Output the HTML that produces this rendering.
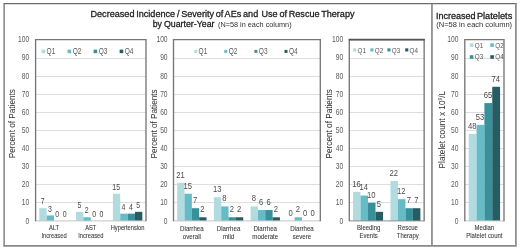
<!DOCTYPE html>
<html><head><meta charset="utf-8"><title>chart</title>
<style>html,body{margin:0;padding:0;background:#fff;}svg{display:block;filter:blur(0.45px);}</style></head>
<body>
<svg width="520" height="251" viewBox="0 0 520 251" font-family="Liberation Sans, sans-serif">
<rect x="0" y="0" width="520" height="251" fill="#ffffff"/>
<path d="M4.1,246.6 L4.1,3.6 L516.6,3.6" fill="none" stroke="#6c6c6c" stroke-width="1.25"/>
<path d="M3.5,245.85 L515.9,245.85 L515.9,3.0" fill="none" stroke="#8a8a8a" stroke-width="1.7"/>
<line x1="431.95" x2="431.95" y1="3.7" y2="245.7" stroke="#8a8a8a" stroke-width="1.7"/>
<text transform="translate(90.50,17.10) scale(1,1)" font-size="9.1" text-anchor="start" fill="#1c1c1c" font-weight="normal" stroke="#1c1c1c" stroke-width="0.28" word-spacing="-0.78">Decreased Incidence / Severity of AEs and</text>
<text transform="translate(354.50,17.10) scale(1,1)" font-size="9.1" text-anchor="end" fill="#1c1c1c" font-weight="normal" stroke="#1c1c1c" stroke-width="0.28" word-spacing="-0.78">Use of Rescue Therapy</text>
<text transform="translate(152.70,27.20) scale(1,1)" font-size="8.8" text-anchor="start" fill="#1c1c1c" font-weight="normal" stroke="#1c1c1c" stroke-width="0.28" word-spacing="-0.5">by Quarter-Year</text>
<text transform="translate(218.00,27.20) scale(1,1)" font-size="7.8" text-anchor="start" fill="#303030" font-weight="normal" textLength="73.6" lengthAdjust="spacingAndGlyphs">(N=58 in each column)</text>
<text transform="translate(436.10,18.80) scale(1,1)" font-size="9" text-anchor="start" fill="#1c1c1c" font-weight="normal" stroke="#1c1c1c" stroke-width="0.28" word-spacing="-0.5">Increased</text>
<text transform="translate(476.90,18.80) scale(1,1)" font-size="9" text-anchor="start" fill="#1c1c1c" font-weight="normal" stroke="#1c1c1c" stroke-width="0.28" word-spacing="-0.5" textLength="35.4" lengthAdjust="spacingAndGlyphs">Platelets</text>
<text transform="translate(436.30,27.40) scale(1,1)" font-size="7.8" text-anchor="start" fill="#303030" font-weight="normal" textLength="75.8" lengthAdjust="spacingAndGlyphs">(N=58 in each column)</text>
<line x1="35.6" x2="146.0" y1="202.50" y2="202.50" stroke="#dedede" stroke-width="1"/>
<line x1="35.6" x2="146.0" y1="184.50" y2="184.50" stroke="#dedede" stroke-width="1"/>
<line x1="35.6" x2="146.0" y1="166.50" y2="166.50" stroke="#dedede" stroke-width="1"/>
<line x1="35.6" x2="146.0" y1="148.50" y2="148.50" stroke="#dedede" stroke-width="1"/>
<line x1="35.6" x2="146.0" y1="130.50" y2="130.50" stroke="#dedede" stroke-width="1"/>
<line x1="35.6" x2="146.0" y1="112.50" y2="112.50" stroke="#dedede" stroke-width="1"/>
<line x1="35.6" x2="146.0" y1="94.50" y2="94.50" stroke="#dedede" stroke-width="1"/>
<line x1="35.6" x2="146.0" y1="76.50" y2="76.50" stroke="#dedede" stroke-width="1"/>
<line x1="35.6" x2="146.0" y1="58.50" y2="58.50" stroke="#dedede" stroke-width="1"/>
<text transform="translate(29.30,223.55) scale(0.78,1)" font-size="8.6" text-anchor="end" fill="#5c5c5c" font-weight="normal" >0</text>
<text transform="translate(29.30,205.43) scale(0.78,1)" font-size="8.6" text-anchor="end" fill="#5c5c5c" font-weight="normal" >10</text>
<text transform="translate(29.30,187.30) scale(0.78,1)" font-size="8.6" text-anchor="end" fill="#5c5c5c" font-weight="normal" >20</text>
<text transform="translate(29.30,169.18) scale(0.78,1)" font-size="8.6" text-anchor="end" fill="#5c5c5c" font-weight="normal" >30</text>
<text transform="translate(29.30,151.05) scale(0.78,1)" font-size="8.6" text-anchor="end" fill="#5c5c5c" font-weight="normal" >40</text>
<text transform="translate(29.30,132.93) scale(0.78,1)" font-size="8.6" text-anchor="end" fill="#5c5c5c" font-weight="normal" >50</text>
<text transform="translate(29.30,114.80) scale(0.78,1)" font-size="8.6" text-anchor="end" fill="#5c5c5c" font-weight="normal" >60</text>
<text transform="translate(29.30,96.68) scale(0.78,1)" font-size="8.6" text-anchor="end" fill="#5c5c5c" font-weight="normal" >70</text>
<text transform="translate(29.30,78.55) scale(0.78,1)" font-size="8.6" text-anchor="end" fill="#5c5c5c" font-weight="normal" >80</text>
<text transform="translate(29.30,60.43) scale(0.78,1)" font-size="8.6" text-anchor="end" fill="#5c5c5c" font-weight="normal" >90</text>
<text transform="translate(29.30,42.30) scale(0.78,1)" font-size="8.6" text-anchor="end" fill="#5c5c5c" font-weight="normal" >100</text>
<rect x="39.28" y="208.21" width="7.36" height="12.69" fill="#b1dbdf"/>
<text transform="translate(42.56,204.27) scale(0.82,1)" font-size="8.5" text-anchor="middle" fill="#4a4a4a" font-weight="normal" >7</text>
<rect x="46.64" y="215.46" width="7.36" height="5.44" fill="#66bbc7"/>
<text transform="translate(49.92,211.52) scale(0.82,1)" font-size="8.5" text-anchor="middle" fill="#4a4a4a" font-weight="normal" >3</text>
<text transform="translate(57.28,216.96) scale(0.82,1)" font-size="8.5" text-anchor="middle" fill="#4a4a4a" font-weight="normal" >0</text>
<text transform="translate(64.64,216.96) scale(0.82,1)" font-size="8.5" text-anchor="middle" fill="#4a4a4a" font-weight="normal" >0</text>
<text transform="translate(54.00,230.30) scale(0.82,1)" font-size="7" text-anchor="middle" fill="#383838" font-weight="normal" stroke="#383838" stroke-width="0.08">ALT</text>
<text transform="translate(54.00,238.00) scale(0.82,1)" font-size="7" text-anchor="middle" fill="#383838" font-weight="normal" stroke="#383838" stroke-width="0.08">Increased</text>
<rect x="76.08" y="211.84" width="7.36" height="9.06" fill="#b1dbdf"/>
<text transform="translate(79.36,207.90) scale(0.82,1)" font-size="8.5" text-anchor="middle" fill="#4a4a4a" font-weight="normal" >5</text>
<rect x="83.44" y="217.28" width="7.36" height="3.62" fill="#66bbc7"/>
<text transform="translate(86.72,213.34) scale(0.82,1)" font-size="8.5" text-anchor="middle" fill="#4a4a4a" font-weight="normal" >2</text>
<text transform="translate(94.08,216.96) scale(0.82,1)" font-size="8.5" text-anchor="middle" fill="#4a4a4a" font-weight="normal" >0</text>
<text transform="translate(101.44,216.96) scale(0.82,1)" font-size="8.5" text-anchor="middle" fill="#4a4a4a" font-weight="normal" >0</text>
<text transform="translate(90.80,230.30) scale(0.82,1)" font-size="7" text-anchor="middle" fill="#383838" font-weight="normal" stroke="#383838" stroke-width="0.08">AST</text>
<text transform="translate(90.80,238.00) scale(0.82,1)" font-size="7" text-anchor="middle" fill="#383838" font-weight="normal" stroke="#383838" stroke-width="0.08">Increased</text>
<rect x="112.88" y="193.71" width="7.36" height="27.19" fill="#b1dbdf"/>
<text transform="translate(116.16,189.77) scale(0.82,1)" font-size="8.5" text-anchor="middle" fill="#4a4a4a" font-weight="normal" >15</text>
<rect x="120.24" y="213.65" width="7.36" height="7.25" fill="#66bbc7"/>
<text transform="translate(123.52,209.71) scale(0.82,1)" font-size="8.5" text-anchor="middle" fill="#4a4a4a" font-weight="normal" >4</text>
<rect x="127.60" y="213.65" width="7.36" height="7.25" fill="#37909a"/>
<text transform="translate(130.88,209.71) scale(0.82,1)" font-size="8.5" text-anchor="middle" fill="#4a4a4a" font-weight="normal" >4</text>
<rect x="134.96" y="211.84" width="7.36" height="9.06" fill="#255d62"/>
<text transform="translate(138.24,207.90) scale(0.82,1)" font-size="8.5" text-anchor="middle" fill="#4a4a4a" font-weight="normal" >5</text>
<text transform="translate(127.60,230.30) scale(0.82,1)" font-size="7" text-anchor="middle" fill="#383838" font-weight="normal" stroke="#383838" stroke-width="0.08">Hypertension</text>
<line x1="35.6" x2="146.0" y1="220.9" y2="220.9" stroke="#c4c4c4" stroke-width="1"/>
<path d="M35.6,221.20000000000002 L35.6,39.65 L146.0,39.65 L146.0,221.20000000000002" fill="none" stroke="#777777" stroke-width="1.35"/>
<rect x="41.50" y="49.60" width="3.6" height="3.6" fill="#b1dbdf"/>
<text transform="translate(46.60,54.00) scale(0.79,1)" font-size="8.3" text-anchor="start" fill="#595959" font-weight="normal" >Q1</text>
<rect x="67.55" y="49.60" width="3.6" height="3.6" fill="#66bbc7"/>
<text transform="translate(72.65,54.00) scale(0.79,1)" font-size="8.3" text-anchor="start" fill="#595959" font-weight="normal" >Q2</text>
<rect x="93.60" y="49.60" width="3.6" height="3.6" fill="#37909a"/>
<text transform="translate(98.70,54.00) scale(0.79,1)" font-size="8.3" text-anchor="start" fill="#595959" font-weight="normal" >Q3</text>
<rect x="119.65" y="49.60" width="3.6" height="3.6" fill="#255d62"/>
<text transform="translate(124.75,54.00) scale(0.79,1)" font-size="8.3" text-anchor="start" fill="#595959" font-weight="normal" >Q4</text>
<text transform="translate(14.9,123.7) rotate(-90)" font-size="8.2" text-anchor="middle" fill="#303030" textLength="69.3" lengthAdjust="spacingAndGlyphs">Percent of Patients</text>
<line x1="173.5" x2="320.3" y1="202.50" y2="202.50" stroke="#dedede" stroke-width="1"/>
<line x1="173.5" x2="320.3" y1="184.50" y2="184.50" stroke="#dedede" stroke-width="1"/>
<line x1="173.5" x2="320.3" y1="166.50" y2="166.50" stroke="#dedede" stroke-width="1"/>
<line x1="173.5" x2="320.3" y1="148.50" y2="148.50" stroke="#dedede" stroke-width="1"/>
<line x1="173.5" x2="320.3" y1="130.50" y2="130.50" stroke="#dedede" stroke-width="1"/>
<line x1="173.5" x2="320.3" y1="112.50" y2="112.50" stroke="#dedede" stroke-width="1"/>
<line x1="173.5" x2="320.3" y1="94.50" y2="94.50" stroke="#dedede" stroke-width="1"/>
<line x1="173.5" x2="320.3" y1="76.50" y2="76.50" stroke="#dedede" stroke-width="1"/>
<line x1="173.5" x2="320.3" y1="58.50" y2="58.50" stroke="#dedede" stroke-width="1"/>
<text transform="translate(167.60,223.55) scale(0.78,1)" font-size="8.6" text-anchor="end" fill="#5c5c5c" font-weight="normal" >0</text>
<text transform="translate(167.60,205.43) scale(0.78,1)" font-size="8.6" text-anchor="end" fill="#5c5c5c" font-weight="normal" >10</text>
<text transform="translate(167.60,187.30) scale(0.78,1)" font-size="8.6" text-anchor="end" fill="#5c5c5c" font-weight="normal" >20</text>
<text transform="translate(167.60,169.18) scale(0.78,1)" font-size="8.6" text-anchor="end" fill="#5c5c5c" font-weight="normal" >30</text>
<text transform="translate(167.60,151.05) scale(0.78,1)" font-size="8.6" text-anchor="end" fill="#5c5c5c" font-weight="normal" >40</text>
<text transform="translate(167.60,132.93) scale(0.78,1)" font-size="8.6" text-anchor="end" fill="#5c5c5c" font-weight="normal" >50</text>
<text transform="translate(167.60,114.80) scale(0.78,1)" font-size="8.6" text-anchor="end" fill="#5c5c5c" font-weight="normal" >60</text>
<text transform="translate(167.60,96.68) scale(0.78,1)" font-size="8.6" text-anchor="end" fill="#5c5c5c" font-weight="normal" >70</text>
<text transform="translate(167.60,78.55) scale(0.78,1)" font-size="8.6" text-anchor="end" fill="#5c5c5c" font-weight="normal" >80</text>
<text transform="translate(167.60,60.43) scale(0.78,1)" font-size="8.6" text-anchor="end" fill="#5c5c5c" font-weight="normal" >90</text>
<text transform="translate(167.60,42.30) scale(0.78,1)" font-size="8.6" text-anchor="end" fill="#5c5c5c" font-weight="normal" >100</text>
<rect x="177.17" y="182.84" width="7.34" height="38.06" fill="#b1dbdf"/>
<text transform="translate(180.44,177.69) scale(0.82,1)" font-size="9.3" text-anchor="middle" fill="#4a4a4a" font-weight="normal" >21</text>
<rect x="184.51" y="193.71" width="7.34" height="27.19" fill="#66bbc7"/>
<text transform="translate(187.78,188.56) scale(0.82,1)" font-size="9.3" text-anchor="middle" fill="#4a4a4a" font-weight="normal" >15</text>
<rect x="191.85" y="208.21" width="7.34" height="12.69" fill="#37909a"/>
<text transform="translate(195.12,203.06) scale(0.82,1)" font-size="9.3" text-anchor="middle" fill="#4a4a4a" font-weight="normal" >7</text>
<rect x="199.19" y="217.28" width="7.34" height="3.62" fill="#255d62"/>
<text transform="translate(202.46,212.12) scale(0.82,1)" font-size="9.3" text-anchor="middle" fill="#4a4a4a" font-weight="normal" >2</text>
<text transform="translate(191.85,231.30) scale(0.82,1)" font-size="7.5" text-anchor="middle" fill="#383838" font-weight="normal" stroke="#383838" stroke-width="0.08">Diarrhea</text>
<text transform="translate(191.85,239.00) scale(0.82,1)" font-size="7.5" text-anchor="middle" fill="#383838" font-weight="normal" stroke="#383838" stroke-width="0.08">overall</text>
<rect x="213.87" y="197.34" width="7.34" height="23.56" fill="#b1dbdf"/>
<text transform="translate(217.14,192.19) scale(0.82,1)" font-size="9.3" text-anchor="middle" fill="#4a4a4a" font-weight="normal" >13</text>
<rect x="221.21" y="206.40" width="7.34" height="14.50" fill="#66bbc7"/>
<text transform="translate(224.48,201.25) scale(0.82,1)" font-size="9.3" text-anchor="middle" fill="#4a4a4a" font-weight="normal" >8</text>
<rect x="228.55" y="217.28" width="7.34" height="3.62" fill="#37909a"/>
<text transform="translate(231.82,212.12) scale(0.82,1)" font-size="9.3" text-anchor="middle" fill="#4a4a4a" font-weight="normal" >2</text>
<rect x="235.89" y="217.28" width="7.34" height="3.62" fill="#255d62"/>
<text transform="translate(239.16,212.12) scale(0.82,1)" font-size="9.3" text-anchor="middle" fill="#4a4a4a" font-weight="normal" >2</text>
<text transform="translate(228.55,231.30) scale(0.82,1)" font-size="7.5" text-anchor="middle" fill="#383838" font-weight="normal" stroke="#383838" stroke-width="0.08">Diarrhea</text>
<text transform="translate(228.55,239.00) scale(0.82,1)" font-size="7.5" text-anchor="middle" fill="#383838" font-weight="normal" stroke="#383838" stroke-width="0.08">mild</text>
<rect x="250.57" y="206.40" width="7.34" height="14.50" fill="#b1dbdf"/>
<text transform="translate(253.84,201.25) scale(0.82,1)" font-size="9.3" text-anchor="middle" fill="#4a4a4a" font-weight="normal" >8</text>
<rect x="257.91" y="210.03" width="7.34" height="10.88" fill="#66bbc7"/>
<text transform="translate(261.18,204.87) scale(0.82,1)" font-size="9.3" text-anchor="middle" fill="#4a4a4a" font-weight="normal" >6</text>
<rect x="265.25" y="210.03" width="7.34" height="10.88" fill="#37909a"/>
<text transform="translate(268.52,204.87) scale(0.82,1)" font-size="9.3" text-anchor="middle" fill="#4a4a4a" font-weight="normal" >6</text>
<rect x="272.59" y="217.28" width="7.34" height="3.62" fill="#255d62"/>
<text transform="translate(275.86,212.12) scale(0.82,1)" font-size="9.3" text-anchor="middle" fill="#4a4a4a" font-weight="normal" >2</text>
<text transform="translate(265.25,231.30) scale(0.82,1)" font-size="7.5" text-anchor="middle" fill="#383838" font-weight="normal" stroke="#383838" stroke-width="0.08">Diarrhea</text>
<text transform="translate(265.25,239.00) scale(0.82,1)" font-size="7.5" text-anchor="middle" fill="#383838" font-weight="normal" stroke="#383838" stroke-width="0.08">moderate</text>
<text transform="translate(290.54,215.75) scale(0.82,1)" font-size="9.3" text-anchor="middle" fill="#4a4a4a" font-weight="normal" >0</text>
<rect x="294.61" y="217.28" width="7.34" height="3.62" fill="#66bbc7"/>
<text transform="translate(297.88,212.12) scale(0.82,1)" font-size="9.3" text-anchor="middle" fill="#4a4a4a" font-weight="normal" >2</text>
<text transform="translate(305.22,215.75) scale(0.82,1)" font-size="9.3" text-anchor="middle" fill="#4a4a4a" font-weight="normal" >0</text>
<text transform="translate(312.56,215.75) scale(0.82,1)" font-size="9.3" text-anchor="middle" fill="#4a4a4a" font-weight="normal" >0</text>
<text transform="translate(301.95,231.30) scale(0.82,1)" font-size="7.5" text-anchor="middle" fill="#383838" font-weight="normal" stroke="#383838" stroke-width="0.08">Diarrhea</text>
<text transform="translate(301.95,239.00) scale(0.82,1)" font-size="7.5" text-anchor="middle" fill="#383838" font-weight="normal" stroke="#383838" stroke-width="0.08">severe</text>
<line x1="173.5" x2="320.3" y1="220.9" y2="220.9" stroke="#c4c4c4" stroke-width="1"/>
<path d="M173.5,221.20000000000002 L173.5,39.65 L320.3,39.65 L320.3,221.20000000000002" fill="none" stroke="#777777" stroke-width="1.35"/>
<rect x="194.20" y="49.90" width="3.0" height="3.0" fill="#b1dbdf"/>
<text transform="translate(198.60,54.00) scale(0.79,1)" font-size="8.3" text-anchor="start" fill="#595959" font-weight="normal" >Q1</text>
<rect x="224.30" y="49.90" width="3.0" height="3.0" fill="#66bbc7"/>
<text transform="translate(228.70,54.00) scale(0.79,1)" font-size="8.3" text-anchor="start" fill="#595959" font-weight="normal" >Q2</text>
<rect x="254.40" y="49.90" width="3.0" height="3.0" fill="#37909a"/>
<text transform="translate(258.80,54.00) scale(0.79,1)" font-size="8.3" text-anchor="start" fill="#595959" font-weight="normal" >Q3</text>
<rect x="284.50" y="49.90" width="3.0" height="3.0" fill="#255d62"/>
<text transform="translate(288.90,54.00) scale(0.79,1)" font-size="8.3" text-anchor="start" fill="#595959" font-weight="normal" >Q4</text>
<text transform="translate(156.7,123.9) rotate(-90)" font-size="8.2" text-anchor="middle" fill="#303030" textLength="69.1" lengthAdjust="spacingAndGlyphs">Percent of Patients</text>
<line x1="349.3" x2="424.15" y1="202.50" y2="202.50" stroke="#dedede" stroke-width="1"/>
<line x1="349.3" x2="424.15" y1="184.50" y2="184.50" stroke="#dedede" stroke-width="1"/>
<line x1="349.3" x2="424.15" y1="166.50" y2="166.50" stroke="#dedede" stroke-width="1"/>
<line x1="349.3" x2="424.15" y1="148.50" y2="148.50" stroke="#dedede" stroke-width="1"/>
<line x1="349.3" x2="424.15" y1="130.50" y2="130.50" stroke="#dedede" stroke-width="1"/>
<line x1="349.3" x2="424.15" y1="112.50" y2="112.50" stroke="#dedede" stroke-width="1"/>
<line x1="349.3" x2="424.15" y1="94.50" y2="94.50" stroke="#dedede" stroke-width="1"/>
<line x1="349.3" x2="424.15" y1="76.50" y2="76.50" stroke="#dedede" stroke-width="1"/>
<line x1="349.3" x2="424.15" y1="58.50" y2="58.50" stroke="#dedede" stroke-width="1"/>
<text transform="translate(343.20,223.55) scale(0.78,1)" font-size="8.6" text-anchor="end" fill="#5c5c5c" font-weight="normal" >0</text>
<text transform="translate(343.20,205.43) scale(0.78,1)" font-size="8.6" text-anchor="end" fill="#5c5c5c" font-weight="normal" >10</text>
<text transform="translate(343.20,187.30) scale(0.78,1)" font-size="8.6" text-anchor="end" fill="#5c5c5c" font-weight="normal" >20</text>
<text transform="translate(343.20,169.18) scale(0.78,1)" font-size="8.6" text-anchor="end" fill="#5c5c5c" font-weight="normal" >30</text>
<text transform="translate(343.20,151.05) scale(0.78,1)" font-size="8.6" text-anchor="end" fill="#5c5c5c" font-weight="normal" >40</text>
<text transform="translate(343.20,132.93) scale(0.78,1)" font-size="8.6" text-anchor="end" fill="#5c5c5c" font-weight="normal" >50</text>
<text transform="translate(343.20,114.80) scale(0.78,1)" font-size="8.6" text-anchor="end" fill="#5c5c5c" font-weight="normal" >60</text>
<text transform="translate(343.20,96.68) scale(0.78,1)" font-size="8.6" text-anchor="end" fill="#5c5c5c" font-weight="normal" >70</text>
<text transform="translate(343.20,78.55) scale(0.78,1)" font-size="8.6" text-anchor="end" fill="#5c5c5c" font-weight="normal" >80</text>
<text transform="translate(343.20,60.43) scale(0.78,1)" font-size="8.6" text-anchor="end" fill="#5c5c5c" font-weight="normal" >90</text>
<text transform="translate(343.20,42.30) scale(0.78,1)" font-size="8.6" text-anchor="end" fill="#5c5c5c" font-weight="normal" >100</text>
<rect x="353.04" y="191.90" width="7.48" height="29.00" fill="#b1dbdf"/>
<text transform="translate(356.39,186.75) scale(0.82,1)" font-size="9.3" text-anchor="middle" fill="#4a4a4a" font-weight="normal" >16</text>
<rect x="360.53" y="195.53" width="7.48" height="25.38" fill="#66bbc7"/>
<text transform="translate(363.87,190.37) scale(0.82,1)" font-size="9.3" text-anchor="middle" fill="#4a4a4a" font-weight="normal" >14</text>
<rect x="368.01" y="202.78" width="7.48" height="18.12" fill="#37909a"/>
<text transform="translate(371.36,197.62) scale(0.82,1)" font-size="9.3" text-anchor="middle" fill="#4a4a4a" font-weight="normal" >10</text>
<rect x="375.50" y="211.84" width="7.48" height="9.06" fill="#255d62"/>
<text transform="translate(378.84,206.69) scale(0.82,1)" font-size="9.3" text-anchor="middle" fill="#4a4a4a" font-weight="normal" >5</text>
<text transform="translate(368.71,230.10) scale(0.82,1)" font-size="7.3" text-anchor="middle" fill="#383838" font-weight="normal" stroke="#383838" stroke-width="0.08">Bleeding</text>
<text transform="translate(368.71,237.70) scale(0.82,1)" font-size="7.3" text-anchor="middle" fill="#383838" font-weight="normal" stroke="#383838" stroke-width="0.08">Events</text>
<rect x="390.47" y="181.03" width="7.48" height="39.88" fill="#b1dbdf"/>
<text transform="translate(393.81,175.87) scale(0.82,1)" font-size="9.3" text-anchor="middle" fill="#4a4a4a" font-weight="normal" >22</text>
<rect x="397.95" y="199.15" width="7.48" height="21.75" fill="#66bbc7"/>
<text transform="translate(401.30,194.00) scale(0.82,1)" font-size="9.3" text-anchor="middle" fill="#4a4a4a" font-weight="normal" >12</text>
<rect x="405.44" y="208.21" width="7.48" height="12.69" fill="#37909a"/>
<text transform="translate(408.78,203.06) scale(0.82,1)" font-size="9.3" text-anchor="middle" fill="#4a4a4a" font-weight="normal" >7</text>
<rect x="412.92" y="208.21" width="7.48" height="12.69" fill="#255d62"/>
<text transform="translate(416.27,203.06) scale(0.82,1)" font-size="9.3" text-anchor="middle" fill="#4a4a4a" font-weight="normal" >7</text>
<text transform="translate(407.74,230.10) scale(0.82,1)" font-size="7.3" text-anchor="middle" fill="#383838" font-weight="normal" stroke="#383838" stroke-width="0.08">Rescue</text>
<text transform="translate(407.74,237.70) scale(0.82,1)" font-size="7.3" text-anchor="middle" fill="#383838" font-weight="normal" stroke="#383838" stroke-width="0.08">Therapy</text>
<line x1="349.3" x2="424.15" y1="220.9" y2="220.9" stroke="#8c8c8c" stroke-width="1"/>
<path d="M349.3,221.20000000000002 L349.3,39.65 L424.15,39.65 L424.15,221.20000000000002" fill="none" stroke="#777777" stroke-width="1.35"/>
<line x1="348.7" x2="424.75" y1="39.65" y2="39.65" stroke="#555" stroke-width="1.9"/>
<rect x="353.10" y="48.35" width="3.1" height="3.1" fill="#b1dbdf"/>
<text transform="translate(357.50,52.60) scale(0.79,1)" font-size="8.0" text-anchor="start" fill="#595959" font-weight="normal" >Q1</text>
<rect x="370.40" y="48.35" width="3.1" height="3.1" fill="#66bbc7"/>
<text transform="translate(374.80,52.60) scale(0.79,1)" font-size="8.0" text-anchor="start" fill="#595959" font-weight="normal" >Q2</text>
<rect x="387.40" y="48.35" width="3.1" height="3.1" fill="#37909a"/>
<text transform="translate(391.80,52.60) scale(0.79,1)" font-size="8.0" text-anchor="start" fill="#595959" font-weight="normal" >Q3</text>
<rect x="405.20" y="48.35" width="3.1" height="3.1" fill="#255d62"/>
<text transform="translate(409.60,52.60) scale(0.79,1)" font-size="8.0" text-anchor="start" fill="#595959" font-weight="normal" >Q4</text>
<text transform="translate(331.9,123.8) rotate(-90)" font-size="8.2" text-anchor="middle" fill="#1e1e1e" textLength="69.3" lengthAdjust="spacingAndGlyphs">Percent of Patients</text>
<line x1="464.8" x2="504.0" y1="202.50" y2="202.50" stroke="#dedede" stroke-width="1"/>
<line x1="464.8" x2="504.0" y1="184.50" y2="184.50" stroke="#dedede" stroke-width="1"/>
<line x1="464.8" x2="504.0" y1="166.50" y2="166.50" stroke="#dedede" stroke-width="1"/>
<line x1="464.8" x2="504.0" y1="148.50" y2="148.50" stroke="#dedede" stroke-width="1"/>
<line x1="464.8" x2="504.0" y1="130.50" y2="130.50" stroke="#dedede" stroke-width="1"/>
<line x1="464.8" x2="504.0" y1="112.50" y2="112.50" stroke="#dedede" stroke-width="1"/>
<line x1="464.8" x2="504.0" y1="94.50" y2="94.50" stroke="#dedede" stroke-width="1"/>
<line x1="464.8" x2="504.0" y1="76.50" y2="76.50" stroke="#dedede" stroke-width="1"/>
<line x1="464.8" x2="504.0" y1="58.50" y2="58.50" stroke="#dedede" stroke-width="1"/>
<text transform="translate(458.40,223.55) scale(0.78,1)" font-size="8.6" text-anchor="end" fill="#5c5c5c" font-weight="normal" >0</text>
<text transform="translate(458.40,205.43) scale(0.78,1)" font-size="8.6" text-anchor="end" fill="#5c5c5c" font-weight="normal" >10</text>
<text transform="translate(458.40,187.30) scale(0.78,1)" font-size="8.6" text-anchor="end" fill="#5c5c5c" font-weight="normal" >20</text>
<text transform="translate(458.40,169.18) scale(0.78,1)" font-size="8.6" text-anchor="end" fill="#5c5c5c" font-weight="normal" >30</text>
<text transform="translate(458.40,151.05) scale(0.78,1)" font-size="8.6" text-anchor="end" fill="#5c5c5c" font-weight="normal" >40</text>
<text transform="translate(458.40,132.93) scale(0.78,1)" font-size="8.6" text-anchor="end" fill="#5c5c5c" font-weight="normal" >50</text>
<text transform="translate(458.40,114.80) scale(0.78,1)" font-size="8.6" text-anchor="end" fill="#5c5c5c" font-weight="normal" >60</text>
<text transform="translate(458.40,96.68) scale(0.78,1)" font-size="8.6" text-anchor="end" fill="#5c5c5c" font-weight="normal" >70</text>
<text transform="translate(458.40,78.55) scale(0.78,1)" font-size="8.6" text-anchor="end" fill="#5c5c5c" font-weight="normal" >80</text>
<text transform="translate(458.40,60.43) scale(0.78,1)" font-size="8.6" text-anchor="end" fill="#5c5c5c" font-weight="normal" >90</text>
<text transform="translate(458.40,42.30) scale(0.78,1)" font-size="8.6" text-anchor="end" fill="#5c5c5c" font-weight="normal" >100</text>
<rect x="468.72" y="133.90" width="7.84" height="87.00" fill="#b1dbdf"/>
<text transform="translate(472.24,128.75) scale(0.82,1)" font-size="9.3" text-anchor="middle" fill="#4a4a4a" font-weight="normal" >48</text>
<rect x="476.56" y="124.84" width="7.84" height="96.06" fill="#66bbc7"/>
<text transform="translate(480.08,119.69) scale(0.82,1)" font-size="9.3" text-anchor="middle" fill="#4a4a4a" font-weight="normal" >53</text>
<rect x="484.40" y="103.09" width="7.84" height="117.81" fill="#37909a"/>
<text transform="translate(487.92,97.94) scale(0.82,1)" font-size="9.3" text-anchor="middle" fill="#4a4a4a" font-weight="normal" >65</text>
<rect x="492.24" y="86.78" width="7.84" height="134.12" fill="#255d62"/>
<text transform="translate(495.76,81.62) scale(0.82,1)" font-size="9.3" text-anchor="middle" fill="#4a4a4a" font-weight="normal" >74</text>
<text transform="translate(484.40,230.10) scale(0.82,1)" font-size="7.3" text-anchor="middle" fill="#383838" font-weight="normal" stroke="#383838" stroke-width="0.08">Median</text>
<text transform="translate(484.40,237.70) scale(0.82,1)" font-size="7.3" text-anchor="middle" fill="#383838" font-weight="normal" stroke="#383838" stroke-width="0.08">Platelet count</text>
<line x1="464.8" x2="504.0" y1="220.9" y2="220.9" stroke="#c4c4c4" stroke-width="1"/>
<path d="M464.8,221.20000000000002 L464.8,39.65 L504.0,39.65 L504.0,221.20000000000002" fill="none" stroke="#777777" stroke-width="1.35"/>
<rect x="469.80" y="43.30" width="3.6" height="3.6" fill="#b1dbdf"/>
<text transform="translate(474.80,47.55) scale(0.79,1)" font-size="8.0" text-anchor="start" fill="#595959" font-weight="normal" >Q1</text>
<rect x="490.30" y="43.30" width="3.6" height="3.6" fill="#66bbc7"/>
<text transform="translate(495.30,47.55) scale(0.79,1)" font-size="8.0" text-anchor="start" fill="#595959" font-weight="normal" >Q2</text>
<rect x="469.80" y="55.20" width="3.6" height="3.6" fill="#37909a"/>
<text transform="translate(474.80,59.45) scale(0.79,1)" font-size="8.0" text-anchor="start" fill="#595959" font-weight="normal" >Q3</text>
<rect x="490.30" y="55.20" width="3.6" height="3.6" fill="#255d62"/>
<text transform="translate(495.30,59.45) scale(0.79,1)" font-size="8.0" text-anchor="start" fill="#595959" font-weight="normal" >Q4</text>
<text transform="translate(444.7,129.6) rotate(-90)" font-size="8.2" text-anchor="middle" fill="#303030" textLength="77.6" lengthAdjust="spacingAndGlyphs">Platelet count x 10<tspan font-size="5" dy="-2.5">9</tspan><tspan dy="2.5">/L</tspan></text>
</svg>
</body></html>
